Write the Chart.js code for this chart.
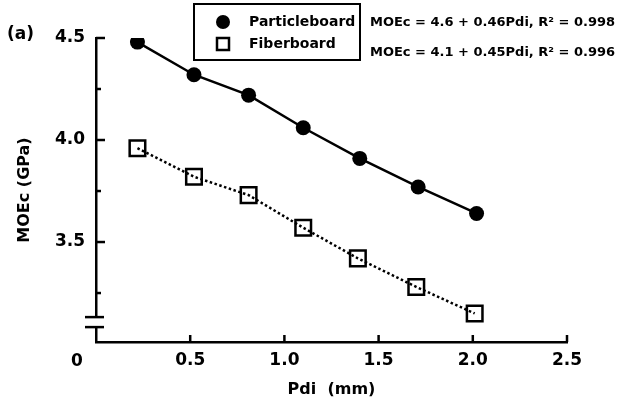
<!DOCTYPE html>
<html lang="en">
<head>
    <meta charset="UTF-8">
    <title>MOEc vs Pdi</title>
    <script src="https://cdn.jsdelivr.net/npm/chart.js"></script>
    <style>
        body { margin: 0; background: #fff; }
    </style>
</head>
<body>
    <canvas id="moeChart" width="632" height="401"></canvas>
    <script>
        // values
        const pdiParticle = [0.22, 0.52, 0.81, 1.10, 1.40, 1.71, 2.02];
        const moeParticle = [4.48, 4.32, 4.22, 4.06, 3.91, 3.77, 3.64];
        const pdiFiber = [0.22, 0.52, 0.81, 1.10, 1.39, 1.70, 2.01];
        const moeFiber = [3.96, 3.82, 3.73, 3.57, 3.42, 3.28, 3.15];

        const xTicks = [0.5, 1.0, 1.5, 2.0, 2.5];
        const yTicks = [3.5, 4.0, 4.5];
        const yMinorTicks = [3.25, 3.75, 4.25];
        const seriesNames = ['Particleboard', 'Fiberboard'];
        const equations = [
            'MOEc = 4.6 + 0.46Pdi, R\u00B2 = 0.998',
            'MOEc = 4.1 + 0.45Pdi, R\u00B2 = 0.996'
        ];

        const FONT = 'DejaVu Sans';

        // inward ticks, axis break, legend box and equations
        const extras = {
            id: 'extras',
            afterDraw(chart) {
                const ctx = chart.ctx;
                const xs = chart.scales.x, ys = chart.scales.y;
                const left = chart.chartArea.left, bottom = chart.chartArea.bottom;
                ctx.save();
                ctx.strokeStyle = '#000';
                ctx.fillStyle = '#000';
                ctx.lineWidth = 2.5;

                yTicks.forEach(v => {
                    const y = ys.getPixelForValue(v);
                    ctx.beginPath(); ctx.moveTo(left, y); ctx.lineTo(left + 9, y); ctx.stroke();
                });
                yMinorTicks.forEach(v => {
                    const y = ys.getPixelForValue(v);
                    ctx.beginPath(); ctx.moveTo(left, y); ctx.lineTo(left + 5, y); ctx.stroke();
                });
                xTicks.forEach(v => {
                    const x = xs.getPixelForValue(v);
                    ctx.beginPath(); ctx.moveTo(x, bottom); ctx.lineTo(x, bottom - 7); ctx.stroke();
                });

                // axis break
                const b1 = ys.getPixelForValue(3.132), b2 = ys.getPixelForValue(3.083);
                ctx.fillStyle = '#fff';
                ctx.fillRect(left - 3, b1, 6, b2 - b1);
                ctx.fillStyle = '#000';
                [b1, b2].forEach(y => {
                    ctx.beginPath(); ctx.moveTo(left - 11, y); ctx.lineTo(left + 8, y); ctx.stroke();
                });

                ctx.font = 'bold 17px "' + FONT + '"';
                ctx.textBaseline = 'middle';
                ctx.textAlign = 'center';
                ctx.fillText('0', 77, 362);
                ctx.textAlign = 'left';
                ctx.fillText('(a)', 7, 35);

                // legend
                ctx.lineWidth = 2;
                ctx.strokeRect(194, 4, 166, 56);
                ctx.beginPath(); ctx.arc(223, 22, 7, 0, Math.PI * 2); ctx.fill();
                ctx.lineWidth = 2.5;
                ctx.strokeRect(217, 38, 12, 12);
                ctx.font = 'bold 14px "' + FONT + '"';
                ctx.fillText(seriesNames[0], 249, 22);
                ctx.fillText(seriesNames[1], 249, 44);

                ctx.font = 'bold 13px "' + FONT + '"';
                ctx.fillText(equations[0], 370, 23);
                ctx.fillText(equations[1], 370, 53);
                ctx.restore();
            }
        };

        new Chart(document.getElementById('moeChart'), {
            type: 'scatter',
            data: {
                datasets: [{
                    label: seriesNames[0],
                    data: pdiParticle.map((x, i) => ({ x: x, y: moeParticle[i] })),
                    showLine: true,
                    borderColor: '#000',
                    borderWidth: 2.5,
                    pointStyle: 'circle',
                    pointRadius: 7.5,
                    pointBackgroundColor: '#000',
                    pointBorderWidth: 0
                }, {
                    label: seriesNames[1],
                    data: pdiFiber.map((x, i) => ({ x: x, y: moeFiber[i] })),
                    showLine: true,
                    borderColor: '#000',
                    borderWidth: 2.5,
                    borderDash: [2.5, 2.5],
                    pointStyle: 'rect',
                    pointRadius: 11,
                    pointBackgroundColor: 'rgba(0,0,0,0)',
                    pointBorderColor: '#000',
                    pointBorderWidth: 2.5
                }]
            },
            options: {
                responsive: false,
                animation: false,
                layout: { padding: { top: 38, right: 65, left: 0, bottom: 0 } },
                plugins: { legend: { display: false }, tooltip: { enabled: false } },
                scales: {
                    x: {
                        type: 'linear',
                        min: 0,
                        max: 2.5,
                        afterBuildTicks: s => { s.ticks = xTicks.map(v => ({ value: v })); },
                        afterFit: s => { s.height = 59; },
                        grid: { display: false, drawTicks: false },
                        border: { color: '#000', width: 2.5 },
                        ticks: {
                            color: '#000',
                            padding: 8,
                            font: { family: FONT, size: 17, weight: 'bold' },
                            callback: v => v.toFixed(1)
                        },
                        title: {
                            display: true,
                            text: 'Pdi  (mm)',
                            color: '#000',
                            font: { family: FONT, size: 16, weight: 'bold' },
                            padding: { top: 0, bottom: 2 }
                        }
                    },
                    y: {
                        min: 3.01,
                        max: 4.5,
                        afterBuildTicks: s => { s.ticks = yTicks.map(v => ({ value: v })); },
                        afterFit: s => { s.width = 96; },
                        grid: { display: false, drawTicks: false },
                        border: { color: '#000', width: 2.5 },
                        ticks: {
                            color: '#000',
                            padding: 11,
                            font: { family: FONT, size: 17, weight: 'bold' },
                            callback: v => v.toFixed(1)
                        },
                        title: {
                            display: true,
                            text: 'MOEc (GPa)',
                            color: '#000',
                            font: { family: FONT, size: 16, weight: 'bold' },
                            padding: { top: 15, bottom: 0 }
                        }
                    }
                }
            },
            plugins: [extras]
        });
    </script>
</body>
</html>
